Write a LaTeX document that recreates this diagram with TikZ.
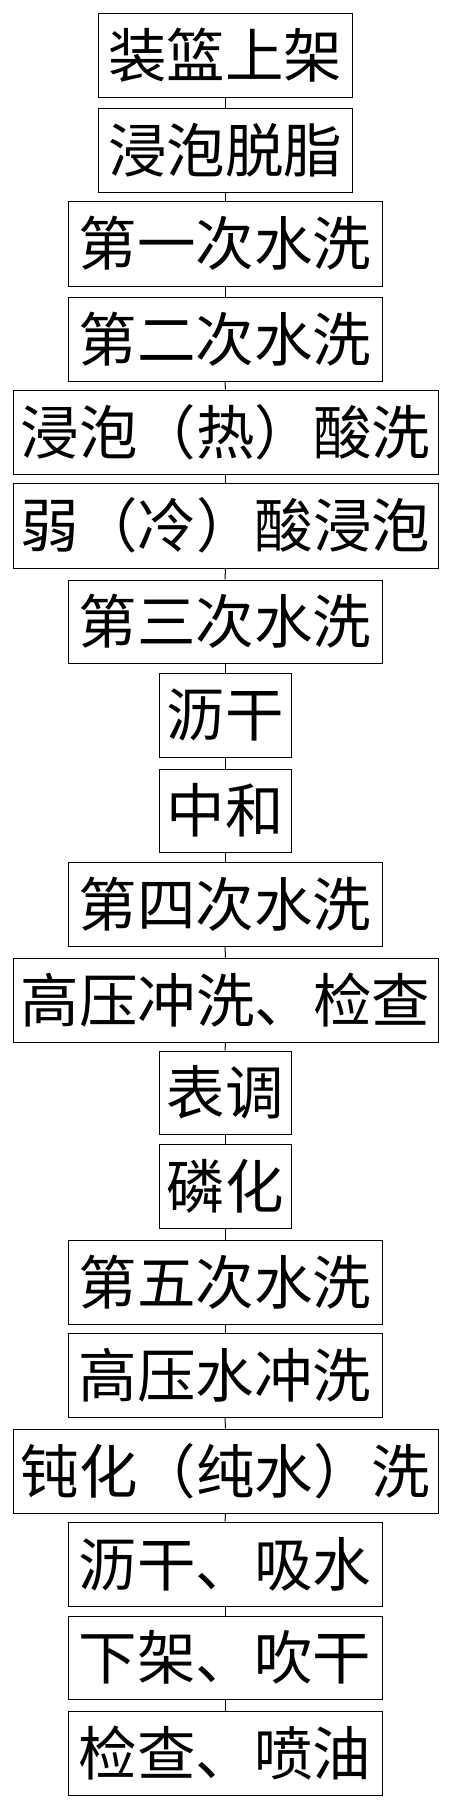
\documentclass[tikz,border=0pt]{standalone}
\usepackage{fontspec}
\newfontfamily\cjk{Noto Sans CJK SC}
\begin{document}
\begin{tikzpicture}[x=1pt,y=-1pt,
  stepbox/.style={draw=black, line width=1pt, rectangle, inner sep=0pt,
    font=\cjk\fontsize{58.5}{62}\selectfont, text=black},
  link/.style={draw=black, line width=1pt}]
\useasboundingbox (0,0) rectangle (450,1807);
\newcommand{\mybox}[6]{%
  \node[stepbox, minimum width={#3-#2}, minimum height={#5-#4}] (#1) at ({(#2+#3)/2},{(#4+#5)/2}) {#6};}
\mybox{b1}{98}{352}{13}{97}{装篮上架}
\mybox{b2}{98}{352}{108}{192}{浸泡脱脂}
\mybox{b3}{68}{382}{201}{286}{第一次水洗}
\mybox{b4}{68}{382}{297}{381}{第二次水洗}
\mybox{b5}{13}{438}{390}{474}{浸泡（热）酸洗}
\mybox{b6}{13}{438}{483}{568}{弱（冷）酸浸泡}
\mybox{b7}{68}{382}{580}{663}{第三次水洗}
\mybox{b8}{159}{291}{673}{757}{沥干}
\mybox{b9}{159}{291}{769}{852}{中和}
\mybox{b10}{68}{382}{862}{946}{第四次水洗}
\mybox{b11}{13}{438}{958}{1042}{高压冲洗、检查}
\mybox{b12}{159}{291}{1051}{1134}{表调}
\mybox{b13}{159}{291}{1144}{1228}{磷化}
\mybox{b14}{68}{382}{1240}{1324}{第五次水洗}
\mybox{b15}{68}{382}{1333}{1417}{高压水冲洗}
\mybox{b16}{13}{438}{1429}{1513}{钝化（纯水）洗}
\mybox{b17}{68}{382}{1522}{1606}{沥干、吸水}
\mybox{b18}{68}{382}{1616}{1699}{下架、吹干}
\mybox{b19}{68}{382}{1711}{1795}{检查、喷油}
\foreach \a/\b in {b1/b2,b2/b3,b3/b4,b4/b5,b5/b6,b6/b7,b7/b8,b8/b9,b9/b10,b10/b11,b11/b12,b12/b13,b13/b14,b14/b15,b15/b16,b16/b17,b17/b18,b18/b19}
  \draw[link] (\a.south) -- (\b.north);
\end{tikzpicture}
\end{document}
